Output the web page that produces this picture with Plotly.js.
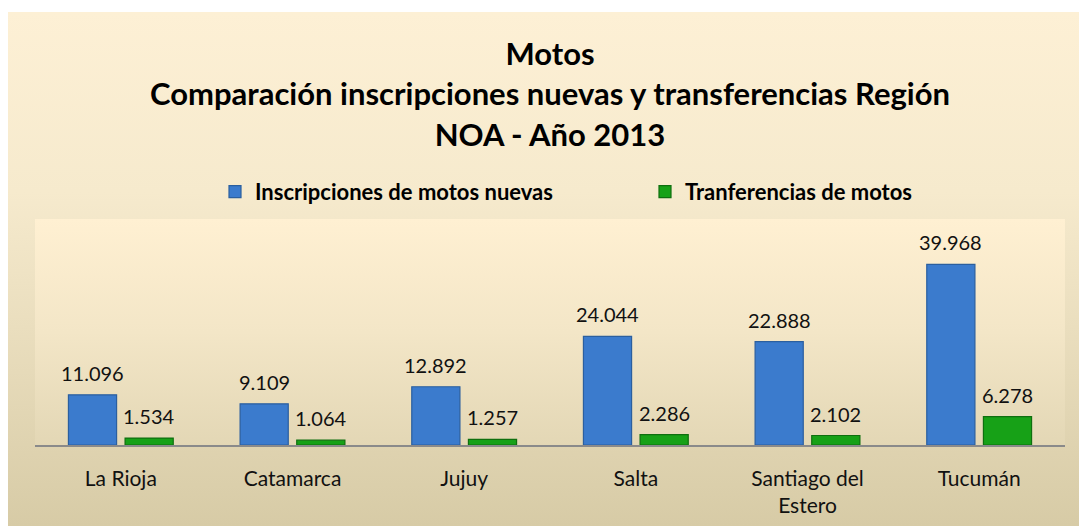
<!DOCTYPE html>
<html>
<head>
<meta charset="utf-8">
<script src="https://cdn.plot.ly/plotly-3.0.1.min.js"></script>
<style>
  html, body { margin:0; padding:0; background:#ffffff; }
  #wrap { position:relative; width:1079px; height:526px; background:#ffffff; overflow:hidden; }
  #bg { position:absolute; left:8px; top:12px; right:0; bottom:0;
        background: linear-gradient(to bottom, #fdf0d5 0%, #f6eacd 35%, #e6dab9 70%, #d7cba6 100%); }
  #pbg { position:absolute; left:35px; top:219px; width:1030px; height:226px;
         background: linear-gradient(to bottom, #fff0d2 0%, #f3e6c7 50%, #e3d7b5 100%); }
  #chart { position:absolute; left:0; top:0; width:1079px; height:526px; }
</style>
</head>
<body>
<div id="wrap">
  <div id="bg"></div>
  <div id="pbg"></div>
  <div id="chart"></div>
</div>
<script>
// ---- Data ----
const categories = ['La Rioja', 'Catamarca', 'Jujuy', 'Salta', 'Santiago del Estero', 'Tucumán'];
const tickLabels = ['La Rioja', 'Catamarca', 'Jujuy', 'Salta', 'Santiago del<br>Estero', 'Tucumán'];
const inscripcionesNuevas = [11096, 9109, 12892, 24044, 22888, 39968];
const transferencias = [1534, 1064, 1257, 2286, 2102, 6278];
const seriesNames = ['Inscripciones de motos nuevas', 'Tranferencias de motos'];
const titleLines = ['Motos', 'Comparación inscripciones nuevas y transferencias Región', 'NOA - Año 2013'];

// ---- Helpers ----
function fmt(v) {
  return String(v).replace(/\B(?=(\d{3})+(?!\d))/g, '.');
}

const bargap = 0.34;
const bargroupgap = 0.15;
const slot = (1 - bargap) / 2;
const labelFont = { family: 'Lato, sans-serif', size: 20, color: '#111111' };

const traces = [
  {
    type: 'bar', name: seriesNames[0], x: categories, y: inscripcionesNuevas,
    marker: { color: '#3b7bcd', line: { color: '#2b5f9f', width: 1.2 } },
    legend: 'legend', hoverinfo: 'x+y'
  },
  {
    type: 'bar', name: seriesNames[1], x: categories, y: transferencias,
    marker: { color: '#17a117', line: { color: '#0f6f0f', width: 1.2 } },
    legend: 'legend2', hoverinfo: 'x+y'
  }
];

const annotations = [];
[inscripcionesNuevas, transferencias].forEach(function (vals, s) {
  const off = (s === 0 ? -1 : 1) * slot / 2;
  vals.forEach(function (v, i) {
    annotations.push({
      x: i + off, y: v, xref: 'x', yref: 'y',
      text: fmt(v), showarrow: false,
      xanchor: 'center', yanchor: 'bottom', yshift: 8,
      font: labelFont
    });
  });
});

const legendFont = { family: 'Lato, sans-serif', size: 22, weight: 700, color: '#000000' };

const layout = {
  width: 1079, height: 526,
  margin: { l: 35, r: 14, t: 219, b: 81 },
  paper_bgcolor: 'rgba(0,0,0,0)',
  plot_bgcolor: 'rgba(0,0,0,0)',
  barmode: 'group',
  bargap: bargap,
  bargroupgap: bargroupgap,
  title: {
    text: titleLines.join('<br>'),
    font: { family: 'Lato, sans-serif', size: 31, weight: 700, color: '#000000' },
    x: 0.5, xref: 'paper', xanchor: 'center',
    y: 1 - 65 / 526, yref: 'container', yanchor: 'top'
  },
  legend: {
    orientation: 'h', x: (215 - 35) / 1030, xanchor: 'left', y: 1.12, yanchor: 'middle',
    font: legendFont, bgcolor: 'rgba(0,0,0,0)', itemwidth: 30
  },
  legend2: {
    orientation: 'h', x: (645 - 35) / 1030, xanchor: 'left', y: 1.12, yanchor: 'middle',
    font: legendFont, bgcolor: 'rgba(0,0,0,0)', itemwidth: 30
  },
  xaxis: {
    type: 'category',
    tickmode: 'array', tickvals: categories, ticktext: tickLabels,
    showline: true, linecolor: '#8a8a8a', linewidth: 1.5,
    ticks: '', ticklabelstandoff: 14,
    tickfont: { family: 'Lato, sans-serif', size: 21, color: '#111111' },
    showgrid: false, zeroline: false, fixedrange: true
  },
  yaxis: {
    range: [0, 50000], visible: false, showgrid: false, zeroline: false, fixedrange: true
  },
  annotations: annotations,
  showlegend: true
};

Plotly.newPlot('chart', traces, layout, { displayModeBar: false, staticPlot: true });
</script>
</body>
</html>
